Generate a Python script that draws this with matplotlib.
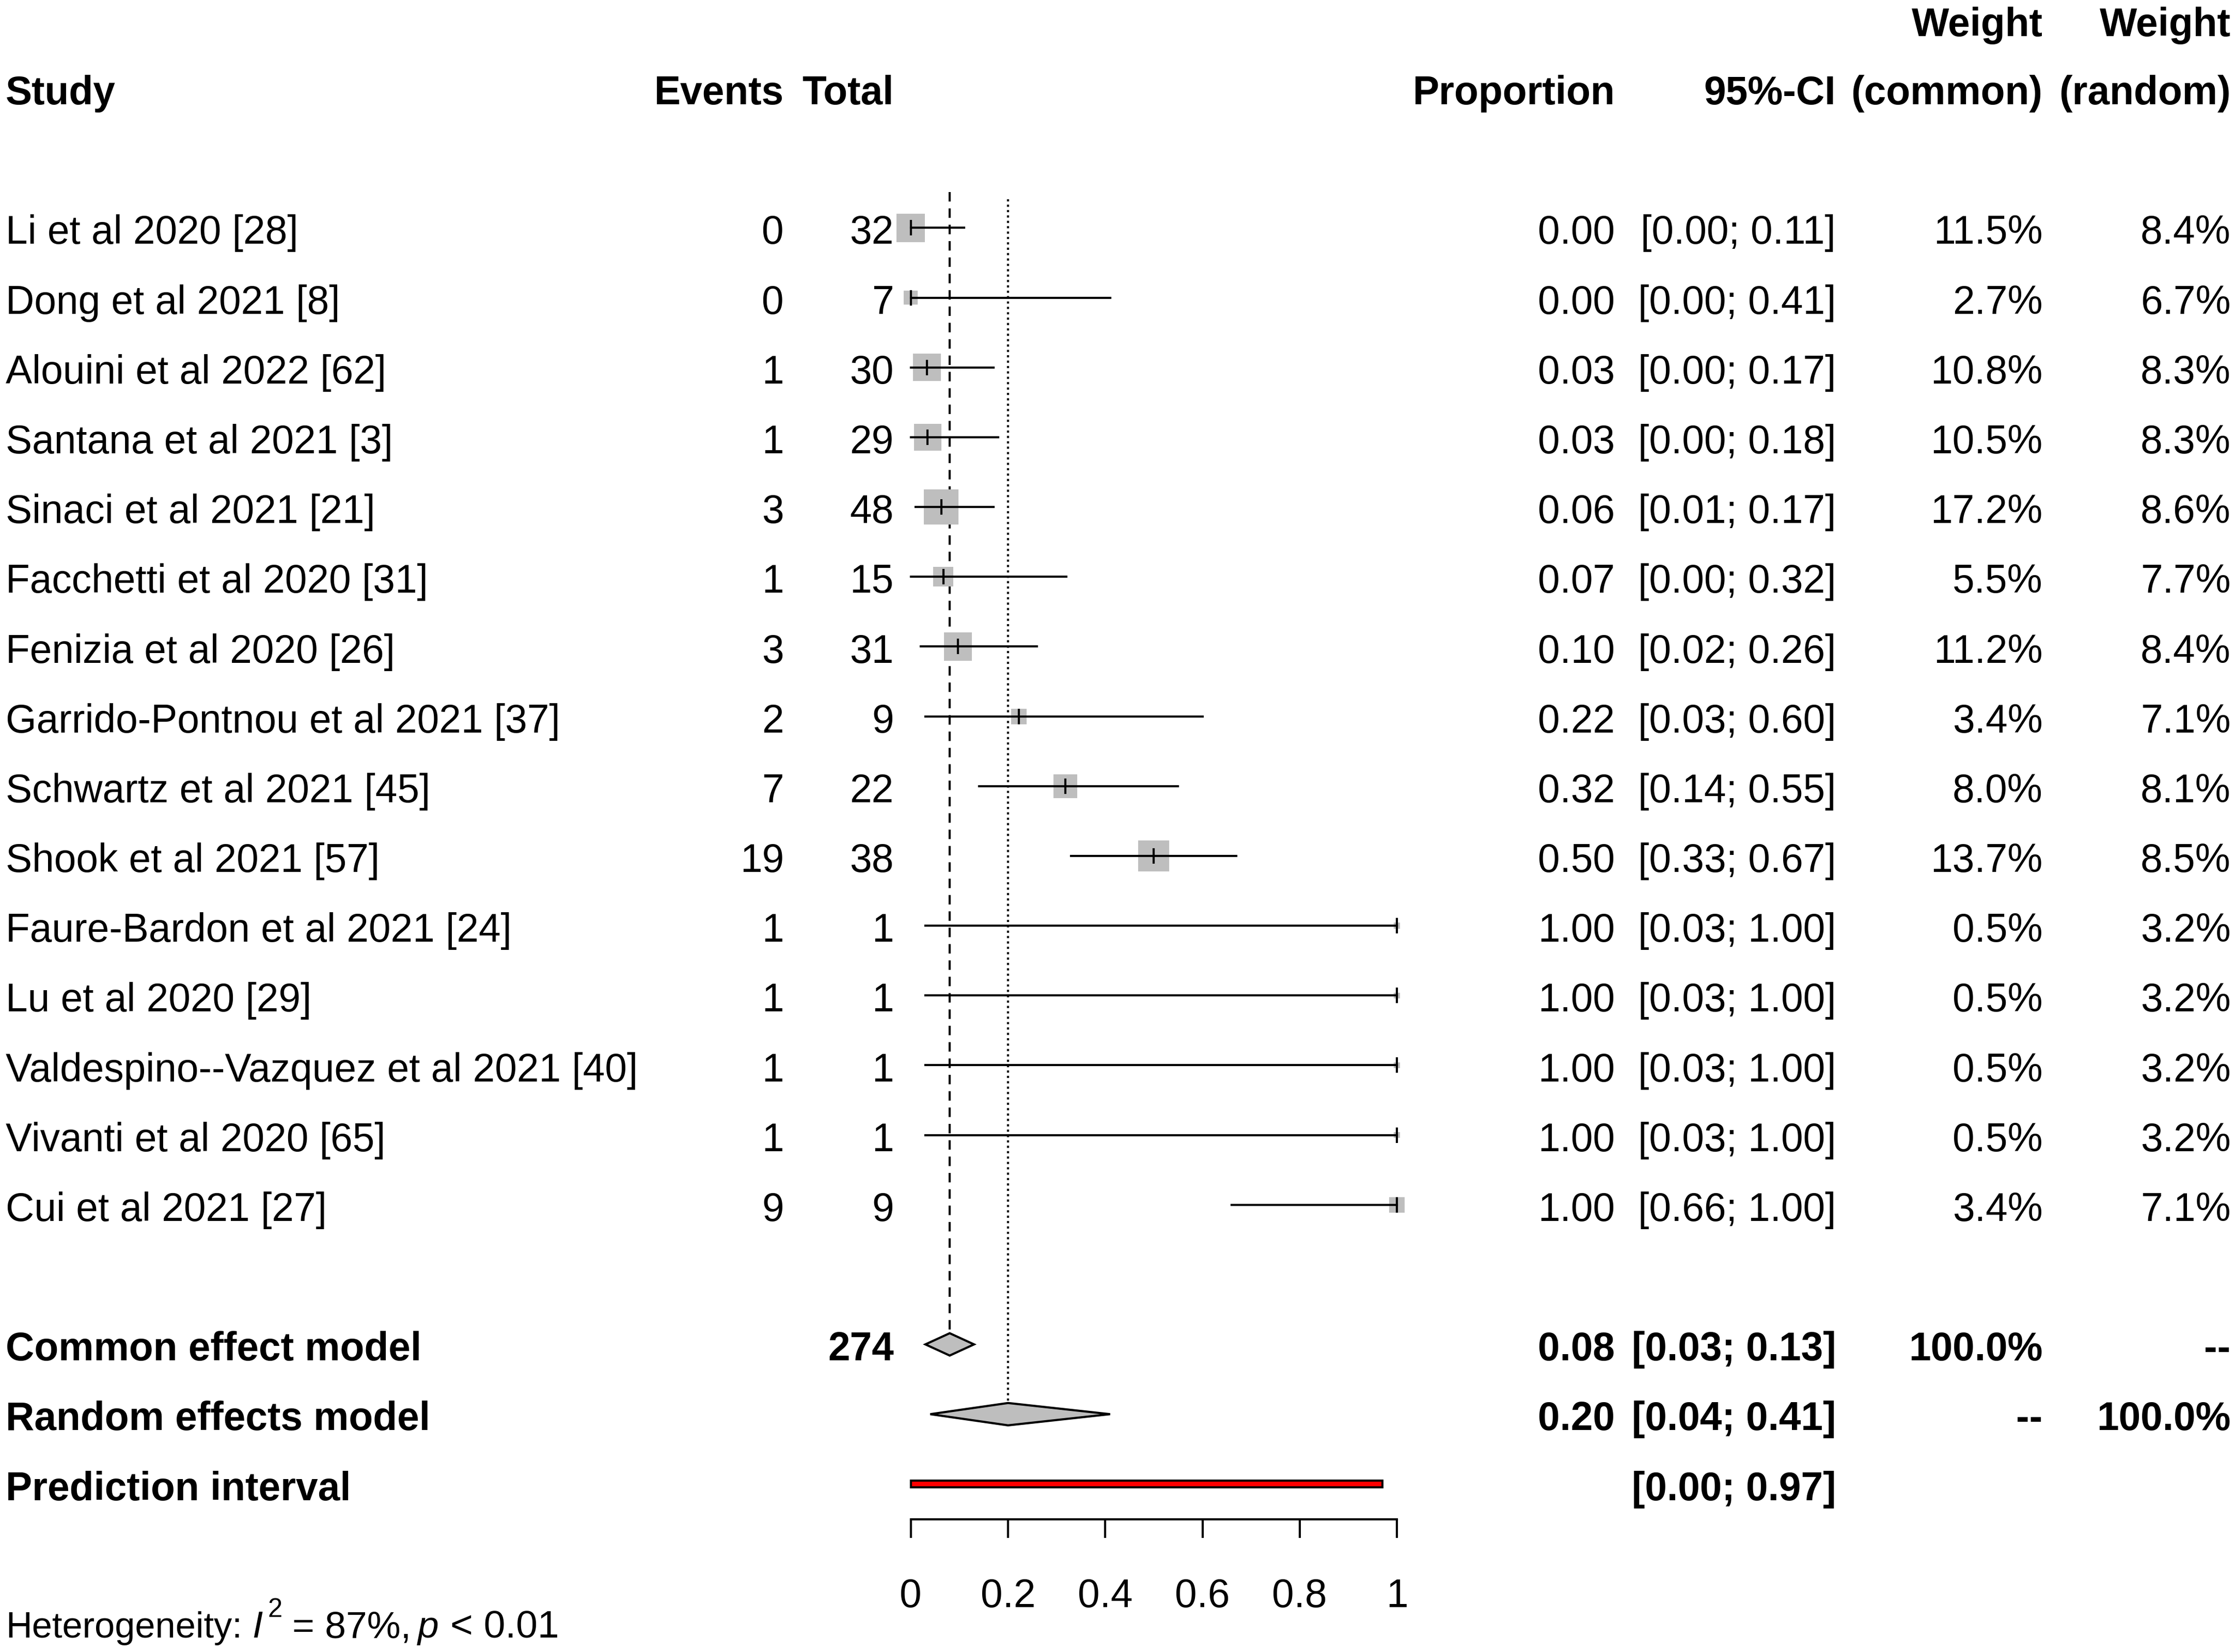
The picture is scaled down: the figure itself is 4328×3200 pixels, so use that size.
import matplotlib
matplotlib.use("Agg")
import matplotlib.pyplot as plt
from matplotlib.transforms import blended_transform_factory, offset_copy
from matplotlib.patches import Polygon

plt.rcParams['font.family'] = ['Liberation Sans', 'DejaVu Sans']

# study data
studies = ["Li et al 2020 [28]", "Dong et al 2021 [8]", "Alouini et al 2022 [62]",
           "Santana et al 2021 [3]", "Sinaci et al 2021 [21]", "Facchetti et al 2020 [31]",
           "Fenizia et al 2020 [26]", "Garrido-Pontnou et al 2021 [37]", "Schwartz et al 2021 [45]",
           "Shook et al 2021 [57]", "Faure-Bardon et al 2021 [24]", "Lu et al 2020 [29]",
           "Valdespino--Vazquez et al 2021 [40]", "Vivanti et al 2020 [65]", "Cui et al 2021 [27]"]
events = [0, 0, 1, 1, 3, 1, 3, 2, 7, 19, 1, 1, 1, 1, 9]
totals = [32, 7, 30, 29, 48, 15, 31, 9, 22, 38, 1, 1, 1, 1, 9]
ci_low = [0.00, 0.00, 0.00, 0.00, 0.01, 0.00, 0.02, 0.03, 0.14, 0.33, 0.03, 0.03, 0.03, 0.03, 0.66]
ci_high = [0.11, 0.41, 0.17, 0.18, 0.17, 0.32, 0.26, 0.60, 0.55, 0.67, 1.00, 1.00, 1.00, 1.00, 1.00]
w_common = [11.5, 2.7, 10.8, 10.5, 17.2, 5.5, 11.2, 3.4, 8.0, 13.7, 0.5, 0.5, 0.5, 0.5, 3.4]
w_random = [8.4, 6.7, 8.3, 8.3, 8.6, 7.7, 8.4, 7.1, 8.1, 8.5, 3.2, 3.2, 3.2, 3.2, 7.1]

# pooled results
common_est, common_lo, common_hi = 0.08, 0.03, 0.13
random_est, random_lo, random_hi = 0.20, 0.04, 0.41
pred_lo, pred_hi = 0.00, 0.97
total_n = 274
xticks = [0, 0.2, 0.4, 0.6, 0.8, 1]
xticklabels = ["0", "0.2", "0.4", "0.6", "0.8", "1"]

props = [e / n for e, n in zip(events, totals)]

W, H = 1568.0, 1160.0   # layout grid (reference px)
fig = plt.figure(figsize=(4328 / 300, 3200 / 300), dpi=300)
ax = fig.add_axes([639 / W, (H - 1067) / H, 341 / W, 1067 / H])
ax.set_xlim(0, 1)
ax.set_ylim((1067 - 160) / 49, -160 / 49)
for s in ['top', 'left', 'right']:
    ax.spines[s].set_visible(False)
ax.spines['bottom'].set_linewidth(1.0)
ax.set_yticks([])
ax.set_xticks(xticks)
ax.set_xticklabels(xticklabels)
ax.tick_params(axis='x', length=8.6, width=1.0, pad=18.5, labelsize=18.4)

FS = 18.4
BASE = 0.23   # baseline offset below row centre
tr = blended_transform_factory(fig.transFigure, ax.transData)

def txt(xpix, row, s, ha='right', bold=False, size=FS, style='normal'):
    return fig.text(xpix / W, row + BASE, s, transform=tr, ha=ha, va='baseline',
                    fontsize=size, fontweight='bold' if bold else 'normal', fontstyle=style)

# headers
txt(4, -2, "Study", ha='left', bold=True)
txt(550, -2, "Events", bold=True)
txt(627, -2, "Total", bold=True)
txt(1133, -2, "Proportion", bold=True)
txt(1288, -2, "95%-CI", bold=True)
txt(1433, -2.98, "Weight", bold=True)
txt(1433, -2, "(common)", bold=True)
txt(1565, -2.98, "Weight", bold=True)
txt(1565, -2, "(random)", bold=True)

# reference lines
ax.plot([common_est, common_est], [-0.51, 16 - 0.16], color='black', lw=1.0,
        dashes=(4.4, 3.2), clip_on=False)
ax.plot([random_est, random_est], [-0.41, 17 - 0.16], color='black', lw=1.0,
        dashes=(1.0, 1.5), clip_on=False)

for i in range(len(studies)):
    ax.plot([ci_low[i], ci_high[i]], [i, i], color='black', lw=1.0, clip_on=False, zorder=3)
    ax.scatter([props[i]], [i], marker='s', s=15.2 * w_common[i], color='#bebebe',
               edgecolors='none', clip_on=False, zorder=2)
    ax.plot([props[i]], [i], marker='|', markersize=7.4, mew=1.0, color='black',
            clip_on=False, zorder=4)
    txt(4, i, studies[i], ha='left')
    txt(550, i, str(events[i]))
    txt(627, i, str(totals[i]))
    txt(1133, i, "%.2f" % props[i])
    txt(1288, i, "[%.2f; %.2f]" % (ci_low[i], ci_high[i]))
    txt(1433, i, "%.1f%%" % w_common[i])
    txt(1565, i, "%.1f%%" % w_random[i])

# pooled diamonds
hh = 0.16
for row, est, lo, hi in [(16, common_est, common_lo, common_hi),
                         (17, random_est, random_lo, random_hi)]:
    ax.add_patch(Polygon([(lo, row), (est, row - hh), (hi, row), (est, row + hh)],
                         closed=True, facecolor='#bebebe', edgecolor='black',
                         lw=1.0, clip_on=False, zorder=3))

ax.barh(18, pred_hi - pred_lo, left=pred_lo, height=0.1, color='red',
        edgecolor='black', lw=1.0, clip_on=False, zorder=3)

txt(4, 16, "Common effect model", ha='left', bold=True)
txt(627, 16, str(total_n), bold=True)
txt(1133, 16, "%.2f" % common_est, bold=True)
txt(1288, 16, "[%.2f; %.2f]" % (common_lo, common_hi), bold=True)
txt(1433, 16, "100.0%", bold=True)
txt(1565, 16, "--", bold=True)

txt(4, 17, "Random effects model", ha='left', bold=True)
txt(1133, 17, "%.2f" % random_est, bold=True)
txt(1288, 17, "[%.2f; %.2f]" % (random_lo, random_hi), bold=True)
txt(1433, 17, "--", bold=True)
txt(1565, 17, "100.0%", bold=True)

txt(4, 18, "Prediction interval", ha='left', bold=True)
txt(1288, 18, "[%.2f; %.2f]" % (pred_lo, pred_hi), bold=True)

# heterogeneity line, built from pieces
hrow = (1150 - 160) / 49 - BASE
hs = 17.6
txt(4, hrow, "Heterogeneity:", ha='left', size=16.9)
txt(177, hrow, "I", ha='left', size=hs, style='italic')
sup = txt(188, hrow, "2", ha='left', size=12.2)
sup.set_transform(offset_copy(tr, fig=fig, y=9.6, units='points'))
txt(205, hrow, "= 87%,", ha='left', size=hs)
txt(293, hrow, "p", ha='left', size=hs, style='italic')
txt(316, hrow, "< 0.01", ha='left', size=18)

fig.savefig("out.png", dpi=300)
